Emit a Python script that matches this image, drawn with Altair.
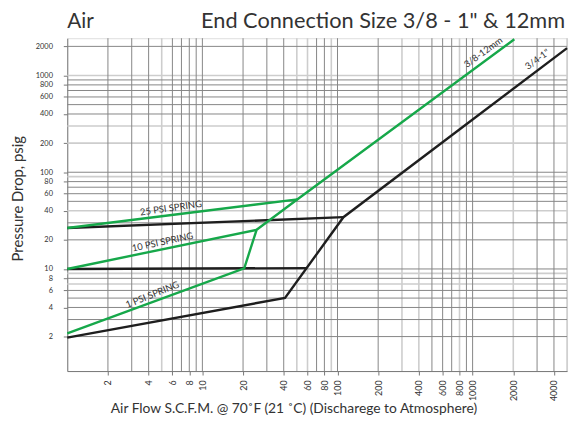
import altair as alt
import pandas as pd

# ---------------- data ----------------
x_ticks = [2, 4, 6, 8, 10, 20, 40, 60, 80, 100, 200, 400, 600, 800, 1000, 2000, 4000]
y_ticks = [2, 4, 6, 8, 10, 20, 40, 60, 80, 100, 200, 400, 600, 800, 1000, 2000]

grid_x_dark = [2, 3, 4, 6, 7, 8, 9, 10, 20, 30, 40, 70, 80, 100, 200, 500, 600, 700, 900, 1000, 3000, 4000]
grid_x_light = [5, 50, 60, 90, 300, 400, 800, 2000, 5000]
grid_y_dark = [2, 3, 4, 5, 6, 8, 10, 20, 30, 50, 60, 70, 80, 100, 400, 500, 600, 700, 800, 900, 2000]
grid_y_light = [7, 9, 40, 90, 200, 300, 1000]

# black curves (3/4-1")
black_main_x = [1, 40.9, 110.6, 5000]
black_main_y = [1.95, 5.02, 34.3, 1920]
black_10_x = [1, 59]
black_10_y = [10, 10.2]
black_25_x = [1, 110.6]
black_25_y = [26.5, 34.3]

# green curves (3/8-12mm)
green_main_x = [1, 20.4, 25.2, 50.6, 2036]
green_main_y = [2.16, 10.15, 25.4, 52.5, 2368]
green_10_x = [1, 25.2]
green_10_y = [10, 25.4]
green_25_x = [1, 50.6]
green_25_y = [26.5, 52.5]

label_text = ["25 PSI SPRING", "10 PSI SPRING", "1 PSI SPRING", "3/8-12mm", "3/4-1\""]
label_x = [5.95, 5.2, 4.47, 1300, 3300]
label_y = [36.1, 16.1, 4.65, 1489, 1236]

title_main = "End Connection Size 3/8 - 1\" & 12mm"
title_left = "Air"
x_title = "Air Flow S.C.F.M. @ 70\u02daF (21 \u02daC) (Discharege to Atmosphere)"
y_title = "Pressure Drop, psig"

# ---------------- tables ----------------
def seg(name, xs, ys):
    return [{"series": name, "ord": i, "x": a, "y": b} for i, (a, b) in enumerate(zip(xs, ys))]

black_df = pd.DataFrame(seg("b_main", black_main_x, black_main_y)
                        + seg("b_10", black_10_x, black_10_y)
                        + seg("b_25", black_25_x, black_25_y))
green_df = pd.DataFrame(seg("g_main", green_main_x, green_main_y)
                        + seg("g_10", green_10_x, green_10_y)
                        + seg("g_25", green_25_x, green_25_y))
labels_df = pd.DataFrame({"x": label_x, "y": label_y, "t": label_text})

FONT = "Lato"
xscale = alt.Scale(type="log", domain=[1, 5000], nice=False)
yscale = alt.Scale(type="log", domain=[0.88, 2430], nice=False)

xaxis = alt.Axis(values=x_ticks, format="d", labelAngle=270, labelFontSize=9, labelFont=FONT,
                 labelColor="#333", labelOverlap=False, labelFlush=False, tickSize=4,
                 tickColor="#777", domainColor="#777", grid=False, labelPadding=5,
                 title=x_title, titleFont=FONT, titleFontSize=14, titleFontWeight="normal",
                 titleColor="#333", titleX=229, titleY=38, titleAlign="center",
                 titleBaseline="middle")
yaxis = alt.Axis(values=y_ticks, format="d", labelFontSize=7.5, labelFont=FONT,
                 labelColor="#333", labelOverlap=False, labelFlush=False, tickSize=4,
                 tickColor="#777", domainColor="#777", grid=False, labelPadding=11,
                 title=y_title, titleFont=FONT, titleFontSize=15, titleFontWeight="normal",
                 titleColor="#333", titleX=-50, titleY=162, titleAngle=270,
                 titleAlign="center", titleBaseline="middle")

X = alt.X("x:Q", scale=xscale, axis=xaxis)
Y = alt.Y("y:Q", scale=yscale, axis=yaxis)

def vrules(vals, color, w):
    return alt.Chart(pd.DataFrame({"x": vals})).mark_rule(color=color, strokeWidth=w).encode(x=X)

def hrules(vals, color, w):
    return alt.Chart(pd.DataFrame({"y": vals})).mark_rule(color=color, strokeWidth=w).encode(y=Y)

layers = [
    vrules(grid_x_light, "#cdcdcd", 1.6),
    hrules(grid_y_light, "#cdcdcd", 1.6),
    vrules(grid_x_dark, "#858585", 1),
    hrules(grid_y_dark, "#858585", 1),
    alt.Chart(black_df).mark_line(color="#1e1e1e", strokeWidth=2.4).encode(
        x=X, y=Y, detail="series:N", order="ord:Q"),
    alt.Chart(green_df).mark_line(color="#16a84a", strokeWidth=2.4).encode(
        x=X, y=Y, detail="series:N", order="ord:Q"),
]

angles = [352, 348, 338, 324, 324]
offsets = [-2, -2, -2, -3, -4]
for i, ang in enumerate(angles):
    layers.append(
        alt.Chart(labels_df.iloc[[i]]).mark_text(
            angle=ang, align="center", baseline="bottom", dy=offsets[i], fontSize=9.5,
            font=FONT, color="#333").encode(x=X, y=Y, text="t:N"))

layers.append(
    alt.Chart(pd.DataFrame({"t": [title_left]})).mark_text(
        align="left", baseline="alphabetic", fontSize=21, font=FONT, color="#333").encode(
        x=alt.value(0), y=alt.value(-10), text="t:N"))
layers.append(
    alt.Chart(pd.DataFrame({"t": [title_main]})).mark_text(
        align="right", baseline="alphabetic", fontSize=22, font=FONT, color="#333").encode(
        x=alt.value(504), y=alt.value(-10), text="t:N"))

chart = alt.layer(*layers).properties(
    width=506, height=337,
    padding={"left": 60, "top": 28, "right": 4, "bottom": 50},
    autosize=alt.AutoSizeParams(type="none"),
).configure_view(stroke="#777", strokeWidth=1).configure(background="white")

chart.save("out.html", embed_options={"renderer": "svg", "actions": False})
